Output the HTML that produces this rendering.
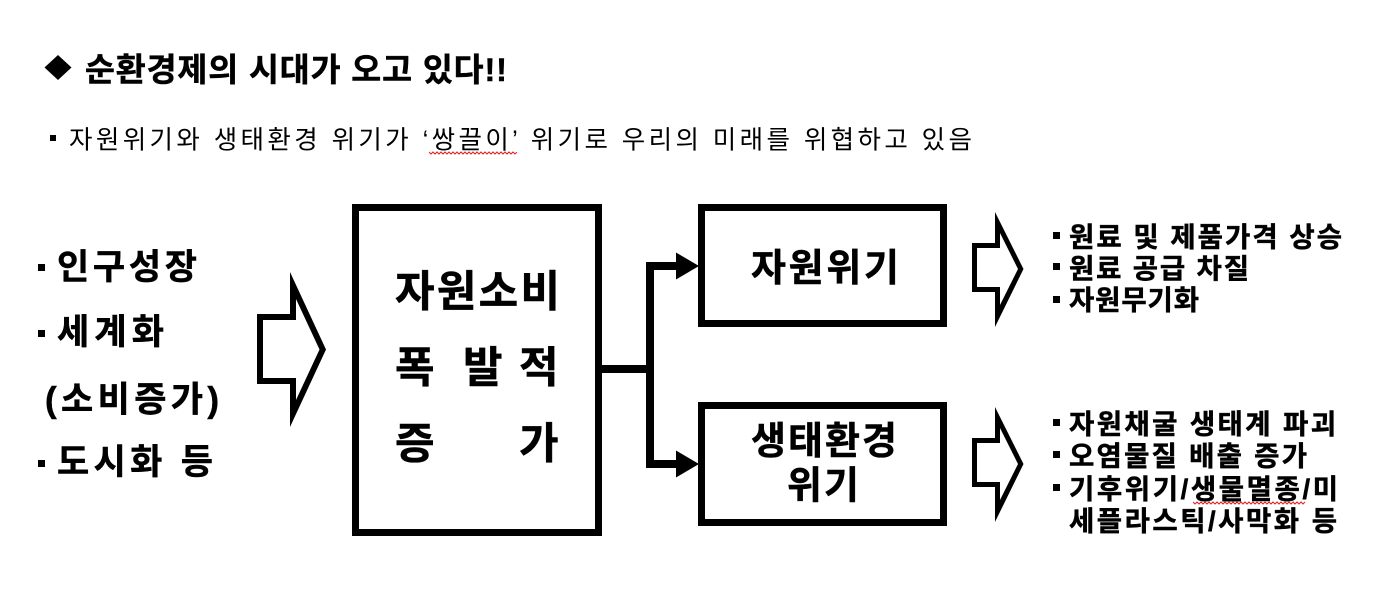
<!DOCTYPE html>
<html><head><meta charset="utf-8"><style>
html,body{margin:0;padding:0;background:#fff;}
svg{display:block;}
text{font-family:"Liberation Sans","Noto Sans CJK KR",sans-serif;fill:#000;}
.b{font-weight:bold;stroke:#000;stroke-width:0.5;}
</style></head><body>
<svg width="1373" height="608" viewBox="0 0 1373 608" xmlns="http://www.w3.org/2000/svg">
<rect width="1373" height="608" fill="#fff"/>
<!-- title -->
<polygon points="58,55 71.5,67.5 58,80 44.5,67.5" fill="#000"/>
<text class="b" x="85" y="81.2" font-size="32.5" textLength="422" lengthAdjust="spacing">순환경제의 시대가 오고 있다!!</text>
<!-- subtitle -->
<rect x="50" y="135" width="6" height="6" fill="#000"/>
<text x="69" y="148.5" font-size="25.5" textLength="903" lengthAdjust="spacing">자원위기와 생태환경 위기가 ‘쌍끌이’ 위기로 우리의 미래를 위협하고 있음</text>
<path d="M429 152l2 2l2 -2l2 2l2 -2l2 2l2 -2l2 2l2 -2l2 2l2 -2l2 2l2 -2l2 2l2 -2l2 2l2 -2l2 2l2 -2l2 2l2 -2l2 2l2 -2l2 2l2 -2l2 2l2 -2l2 2l2 -2l2 2l2 -2l2 2l2 -2l2 2l2 -2l2 2l2 -2l2 2l2 -2l2 2l2 -2l2 2l2 -2l2 2l2 -2" fill="none" stroke="#e02020" stroke-width="1"/>

<!-- left list -->
<rect x="38" y="264" width="7" height="7" fill="#000"/>
<text class="b" x="57" y="279" font-size="35" textLength="140" lengthAdjust="spacing">인구성장</text>
<rect x="38" y="330" width="7" height="7" fill="#000"/>
<text class="b" x="57" y="344" font-size="35" textLength="107" lengthAdjust="spacing">세계화</text>
<text class="b" x="45" y="411.5" font-size="35" textLength="174" lengthAdjust="spacing">(소비증가)</text>
<rect x="38" y="460" width="7" height="7" fill="#000"/>
<text class="b" x="57" y="474" font-size="35" textLength="156" lengthAdjust="spacing">도시화 등</text>

<!-- left block arrow -->
<path fill="#000" fill-rule="evenodd" d="M257 314 L290 314 L290 272 L326 349.5 L290 427 L290 384 L257 384 Z M263 320 L296 320 L296 299 L319.5 349.5 L296 400 L296 378 L263 378 Z"/>

<!-- big box -->
<rect x="355.5" y="207.5" width="243" height="325" fill="none" stroke="#000" stroke-width="7"/>
<text class="b" x="395" y="306.5" font-size="43" textLength="165" lengthAdjust="spacing">자원소비</text>
<text class="b" x="395" y="382.5" font-size="43">폭</text>
<text class="b" x="463" y="382.5" font-size="43">발</text>
<text class="b" x="519" y="382.5" font-size="43">적</text>
<text class="b" x="395" y="458.5" font-size="43">증</text>
<text class="b" x="519" y="458.5" font-size="43">가</text>

<!-- connectors -->
<path d="M602 369 H650 M676 266 H650 V464 H676" fill="none" stroke="#000" stroke-width="8" stroke-linejoin="miter" stroke-linecap="butt"/>
<polygon points="676,252.5 699,266 676,279.5" fill="#000"/>
<polygon points="676,450.5 699,464 676,477.5" fill="#000"/>

<!-- box 1 -->
<rect x="701.5" y="207.5" width="242" height="116" fill="none" stroke="#000" stroke-width="7"/>
<text class="b" x="751" y="281" font-size="38" textLength="148" lengthAdjust="spacing">자원위기</text>
<!-- box 2 -->
<rect x="701.5" y="405.5" width="242" height="117" fill="none" stroke="#000" stroke-width="7"/>
<text class="b" x="751" y="454" font-size="38" textLength="146" lengthAdjust="spacing">생태환경</text>
<text class="b" x="787" y="498.5" font-size="38" textLength="72" lengthAdjust="spacing">위기</text>

<!-- right block arrows -->
<path fill="#000" fill-rule="evenodd" d="M972 243 L995 243 L995 212 L1023.5 269 L995 327 L995 292 L972 292 Z M977 248 L1000 248 L1000 233 L1018 269 L1000 305 L1000 287 L977 287 Z"/>
<path fill="#000" fill-rule="evenodd" transform="translate(0,195)" d="M972 243 L995 243 L995 212 L1023.5 269 L995 327 L995 292 L972 292 Z M977 248 L1000 248 L1000 233 L1018 269 L1000 305 L1000 287 L977 287 Z"/>

<!-- right list top -->
<rect x="1053" y="232" width="7" height="7" fill="#000"/>
<text class="b" x="1069" y="246.5" font-size="27.5" textLength="273" lengthAdjust="spacing">원료 및 제품가격 상승</text>
<rect x="1053" y="263" width="7" height="7" fill="#000"/>
<text class="b" x="1069" y="278" font-size="27.5" textLength="180" lengthAdjust="spacing">원료 공급 차질</text>
<rect x="1053" y="296" width="7" height="7" fill="#000"/>
<text class="b" x="1069" y="309.5" font-size="27.5" textLength="130" lengthAdjust="spacing">자원무기화</text>

<!-- right list bottom -->
<rect x="1053" y="419" width="7" height="7" fill="#000"/>
<text class="b" x="1069" y="433.5" font-size="27.5" textLength="267" lengthAdjust="spacing">자원채굴 생태계 파괴</text>
<rect x="1053" y="451" width="7" height="7" fill="#000"/>
<text class="b" x="1069" y="465.5" font-size="27.5" textLength="238" lengthAdjust="spacing">오염물질 배출 증가</text>
<rect x="1053" y="484" width="7" height="7" fill="#000"/>
<text class="b" x="1069" y="498.5" font-size="27.5" textLength="269" lengthAdjust="spacing">기후위기/생물멸종/미</text>
<text class="b" x="1069" y="530.5" font-size="27.5" textLength="268" lengthAdjust="spacing">세플라스틱/사막화 등</text>
<path d="M1193 502l2 2l2 -2l2 2l2 -2l2 2l2 -2l2 2l2 -2l2 2l2 -2l2 2l2 -2l2 2l2 -2l2 2l2 -2l2 2l2 -2l2 2l2 -2l2 2l2 -2l2 2l2 -2l2 2l2 -2l2 2l2 -2l2 2l2 -2l2 2l2 -2l2 2l2 -2l2 2l2 -2l2 2l2 -2l2 2l2 -2l2 2l2 -2l2 2l2 -2l2 2l2 -2l2 2l2 -2l2 2l2 -2l2 2l2 -2l2 2l2 -2l2 2l2 -2" fill="none" stroke="#e02020" stroke-width="1"/>
</svg>
</body></html>
